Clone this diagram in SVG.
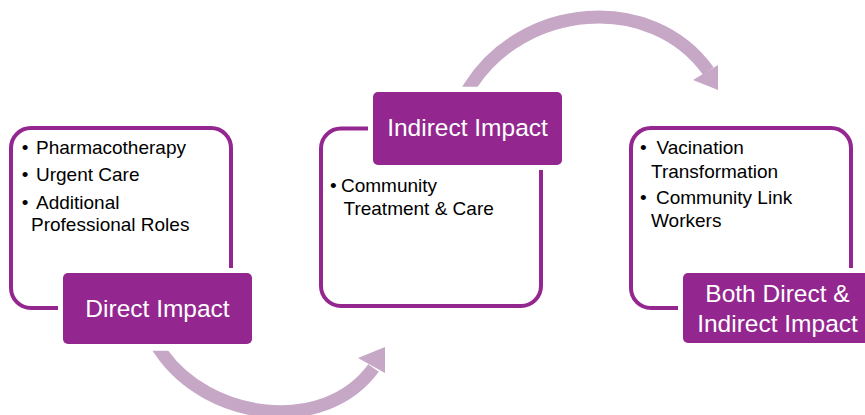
<svg xmlns="http://www.w3.org/2000/svg" width="865" height="415" viewBox="0 0 865 415">
  <style>
    .frame { fill: #ffffff; stroke: #93278F; stroke-width: 4; }
    .label { fill: #93278F; stroke: #ffffff; stroke-width: 10; paint-order: stroke; }
    .label-text { font-family: "Liberation Sans", Arial, sans-serif; font-size: 24.5px; fill: #ffffff; text-anchor: middle; }
    .body { font-family: "Liberation Sans", Arial, sans-serif; font-size: 19px; fill: #000000; }
    .arc { fill: none; stroke: #C6A8C6; stroke-width: 13; stroke-linecap: butt; }
    .head { fill: #C6A8C6; }
  </style>
  <defs>
    <clipPath id="clip-lower">
      <rect x="0" y="350.7" width="865" height="80"/>
    </clipPath>
    <clipPath id="clip-upper">
      <rect x="0" y="-20" width="865" height="106.7"/>
    </clipPath>
  </defs>

  <rect width="865" height="415" fill="#ffffff"/>

  <!-- curved arrows between the stages -->
  <g id="connectors">
    <path class="arc" clip-path="url(#clip-lower)" d="M157.7,346.8 L160.5,351 C207.4,420.5 324.1,435.8 373.5,368"/>
    <polygon class="head" points="358,358 385,373 385,347"/>
    <path class="arc" clip-path="url(#clip-upper)" d="M467,91.3 L469.7,87 C522.1,3 651,-9 708.3,71"/>
    <polygon class="head" points="693,80 718,65 718,90"/>
  </g>

  <!-- stage 1 -->
  <g id="direct">
    <rect class="frame" x="11" y="128" width="220" height="180" rx="20"/>
    <text class="body" x="21.7" y="154">•</text>
    <text class="body" x="36" y="154">Pharmacotherapy</text>
    <text class="body" x="21.7" y="181">•</text>
    <text class="body" x="36" y="181">Urgent Care</text>
    <text class="body" x="21.7" y="209">•</text>
    <text class="body" x="36" y="209">Additional</text>
    <text class="body" x="31" y="231">Professional Roles</text>
    <rect class="label" x="63" y="273" width="189" height="71" rx="5"/>
    <text class="label-text" x="157.5" y="317">Direct Impact</text>
  </g>

  <!-- stage 2 -->
  <g id="indirect">
    <rect class="frame" x="321" y="128.5" width="220" height="177.5" rx="20"/>
    <rect class="label" x="373" y="92" width="189" height="73" rx="5"/>
    <text class="label-text" x="467.5" y="136">Indirect Impact</text>
    <text class="body" x="330" y="192">•</text>
    <text class="body" x="341" y="192">Community</text>
    <text class="body" x="343.5" y="215">Treatment &amp; Care</text>
  </g>

  <!-- stage 3 -->
  <g id="both">
    <rect class="frame" x="631" y="128" width="220" height="180" rx="20"/>
    <text class="body" x="640" y="154">•</text>
    <text class="body" x="656.5" y="154">Vacination</text>
    <text class="body" x="651" y="177.5">Transformation</text>
    <text class="body" x="640" y="204">•</text>
    <text class="body" x="656" y="204">Community Link</text>
    <text class="body" x="651" y="226.5">Workers</text>
    <rect class="label" x="683" y="273" width="189" height="70" rx="5"/>
    <text class="label-text" x="777.5" y="302">Both Direct &amp;</text>
    <text class="label-text" x="777.5" y="332">Indirect Impact</text>
  </g>
</svg>
